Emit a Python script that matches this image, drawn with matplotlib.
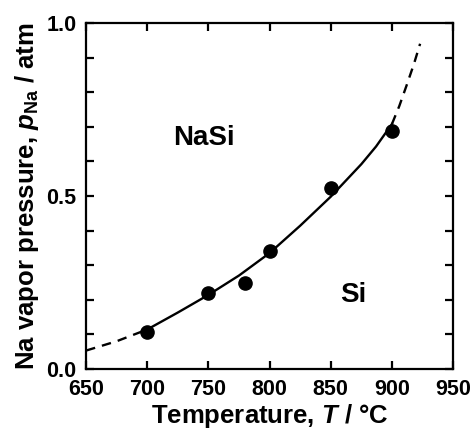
import matplotlib
matplotlib.use("Agg")
import matplotlib.pyplot as plt
import numpy as np

plt.rcParams['font.family'] = ['Liberation Sans', 'DejaVu Sans']
plt.rcParams['font.weight'] = 'bold'
plt.rcParams['mathtext.fontset'] = 'custom'
plt.rcParams['mathtext.rm'] = 'Liberation Sans:bold'
plt.rcParams['mathtext.it'] = 'Liberation Sans:italic:bold'
plt.rcParams['mathtext.bf'] = 'Liberation Sans:bold'

# measured points
temp_meas = [700, 750, 780, 800, 850, 900]
p_meas = [0.107, 0.220, 0.248, 0.342, 0.523, 0.687]

# fitted curve
temp_low = [650, 675, 700]
p_low = [0.053, 0.080, 0.114]
temp_fit = [700, 725, 750, 775, 800, 825, 850, 875, 887, 900]
p_fit = [0.114, 0.163, 0.214, 0.270, 0.335, 0.414, 0.498, 0.592, 0.643, 0.708]
temp_high = [900, 906, 912, 918, 923]
p_high = [0.708, 0.760, 0.820, 0.882, 0.940]

fig = plt.figure(figsize=(4.73, 4.34), dpi=100)
ax = fig.add_axes([0.182, 0.150, 0.776, 0.797])

ax.plot(temp_fit, p_fit, color='black', lw=1.7, solid_joinstyle='round')
ax.plot(temp_low, p_low, color='black', lw=1.7, dashes=(4, 3))
ax.plot(temp_high, p_high, color='black', lw=1.7, dashes=(4, 3))
ax.plot(temp_meas, p_meas, 'o', color='black', ms=9.5)

ax.text(746, 0.667, 'NaSi', fontsize=20, fontweight='bold', ha='center', va='center')
ax.text(868, 0.214, 'Si', fontsize=20, fontweight='bold', ha='center', va='center')

ax.set_xlim(650, 950)
ax.set_ylim(0, 1.0)
ax.set_xticks(np.arange(650, 951, 50))
yt = np.round(np.arange(0, 1.01, 0.1), 1)
ax.set_yticks(yt)
ax.set_yticklabels([f"{v:.1f}" if v in (0.0, 0.5, 1.0) else "" for v in yt])
ax.tick_params(direction='in', length=6, width=1.6, top=True, right=True,
               labelsize=15.5, pad=7)
for lab in ax.get_xticklabels() + ax.get_yticklabels():
    lab.set_fontweight('bold')
for s in ax.spines.values():
    s.set_linewidth(1.6)

ax.set_xlabel('Temperature, $\\mathit{T}$ / °C', fontsize=18.5, fontweight='bold', labelpad=2)
ax.set_ylabel('Na vapor pressure, $\\mathit{p}_{\\mathrm{Na}}$ / atm', fontsize=18.5,
              fontweight='bold', labelpad=4)

plt.savefig("out.png", dpi=100)
